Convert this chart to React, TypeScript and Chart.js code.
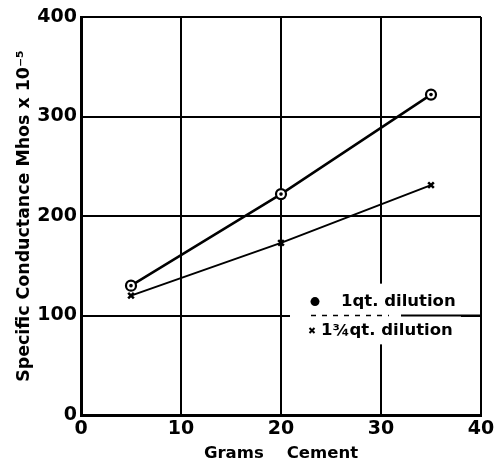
import React, { useEffect, useRef } from "react";
import { Chart, registerables } from "chart.js";

Chart.register(...registerables);

const gramsCement = [5, 20, 35];
const oneQuart = [130, 222, 322];
const oneThreeQuarterQuart = [120, 173, 231];
const xTicks = [0, 10, 20, 30, 40];
const yTicks = [0, 100, 200, 300, 400];
const legendLabels = ["1qt. dilution", "1\u00BEqt. dilution"];

const FONT = "'DejaVu Sans', sans-serif";

const legendPlugin = {
  id: "insetLegend",
  beforeDatasetsDraw(chart: any) {
    const { ctx } = chart;
    const xs = chart.scales.x;
    const ys = chart.scales.y;
    const x0 = xs.getPixelForValue(20.9);
    const yTop = ys.getPixelForValue(132);
    const yBot = ys.getPixelForValue(71);
    ctx.save();
    ctx.fillStyle = "#fff";
    ctx.fillRect(x0, yTop, xs.getPixelForValue(38) - x0, yBot - yTop);
    const y100 = ys.getPixelForValue(100);
    ctx.strokeStyle = "#000";
    ctx.lineWidth = 2;
    ctx.beginPath();
    ctx.moveTo(xs.getPixelForValue(32), y100);
    ctx.lineTo(xs.getPixelForValue(40), y100);
    ctx.stroke();
    ctx.setLineDash([5, 6]);
    ctx.lineWidth = 1.5;
    ctx.beginPath();
    ctx.moveTo(xs.getPixelForValue(23), y100);
    ctx.lineTo(xs.getPixelForValue(30.8), y100);
    ctx.stroke();
    ctx.setLineDash([]);
    ctx.restore();
  },
  afterDatasetsDraw(chart: any) {
    const { ctx } = chart;
    const xs = chart.scales.x;
    const ys = chart.scales.y;
    ctx.save();
    ctx.fillStyle = "#000";
    ctx.strokeStyle = "#000";
    const r1 = ys.getPixelForValue(114);
    ctx.beginPath();
    ctx.arc(xs.getPixelForValue(23.4), r1, 4.5, 0, Math.PI * 2);
    ctx.fill();
    ctx.font = `bold 16.5px ${FONT}`;
    ctx.textBaseline = "middle";
    ctx.textAlign = "left";
    ctx.fillText(legendLabels[0], xs.getPixelForValue(26), r1);
    const r2 = ys.getPixelForValue(85);
    const cx = xs.getPixelForValue(23.1);
    ctx.lineWidth = 2;
    ctx.beginPath();
    ctx.moveTo(cx - 2.5, r2 - 2.5);
    ctx.lineTo(cx + 2.5, r2 + 2.5);
    ctx.moveTo(cx + 2.5, r2 - 2.5);
    ctx.lineTo(cx - 2.5, r2 + 2.5);
    ctx.stroke();
    ctx.fillText(legendLabels[1], xs.getPixelForValue(24), r2);
    ctx.restore();
  },
};

const ringDot = {
  id: "ringDot",
  afterDatasetsDraw(chart: any) {
    const { ctx } = chart;
    const meta = chart.getDatasetMeta(0);
    ctx.save();
    ctx.fillStyle = "#000";
    meta.data.forEach((pt: any) => {
      ctx.beginPath();
      ctx.arc(pt.x, pt.y, 1.8, 0, Math.PI * 2);
      ctx.fill();
    });
    ctx.restore();
  },
};

export default function App() {
  const ref = useRef<HTMLCanvasElement>(null);
  useEffect(() => {
    document.body.style.margin = "0";
    const chart = new Chart(ref.current!, {
      type: "line",
      data: {
        datasets: [
          {
            label: legendLabels[0],
            data: gramsCement.map((x, i) => ({ x, y: oneQuart[i] })),
            borderColor: "#000",
            borderWidth: 2.5,
            pointStyle: "circle",
            pointRadius: 5,
            pointBorderWidth: 2.2,
            pointBorderColor: "#000",
            pointBackgroundColor: "#fff",
            tension: 0,
          },
          {
            label: legendLabels[1],
            data: gramsCement.map((x, i) => ({ x, y: oneThreeQuarterQuart[i] })),
            borderColor: "#000",
            borderWidth: 2,
            pointStyle: "crossRot",
            pointRadius: 4,
            pointBorderWidth: 2.5,
            pointBorderColor: "#000",
            tension: 0,
          },
        ],
      },
      options: {
        animation: false,
        responsive: false,
        layout: { padding: { top: 17, right: 23, left: 0, bottom: 0 } },
        plugins: { legend: { display: false }, tooltip: { enabled: false } },
        scales: {
          x: {
            type: "linear",
            min: 0,
            max: 40,
            afterBuildTicks: (s: any) => {
              s.ticks = xTicks.map((v) => ({ value: v }));
            },
            afterFit: (s: any) => {
              s.height = 47;
            },
            grid: { color: "#000", lineWidth: 2, drawTicks: false },
            border: { color: "#000", width: 3 },
            ticks: {
              color: "#000",
              padding: 3,
              font: { family: FONT, size: 19, weight: "bold" },
              maxRotation: 0,
            },
            title: {
              display: true,
              text: "Grams    Cement",
              color: "#000",
              font: { family: FONT, size: 16.5, weight: "bold" },
              padding: { top: 0, bottom: -2 },
            },
          },
          y: {
            type: "linear",
            min: 0,
            max: 400,
            afterBuildTicks: (s: any) => {
              s.ticks = yTicks.map((v) => ({ value: v }));
            },
            afterFit: (s: any) => {
              s.width = 81;
            },
            grid: { color: "#000", lineWidth: 2, drawTicks: false },
            border: { color: "#000", width: 3 },
            ticks: {
              color: "#000",
              padding: 4,
              font: { family: FONT, size: 19, weight: "bold" },
            },
            title: {
              display: true,
              text: "Specific Conductance Mhos x 10\u207B\u2075",
              color: "#000",
              font: { family: FONT, size: 17.4, weight: "bold" },
              padding: { top: 14, bottom: 0 },
            },
          },
        },
      },
      plugins: [legendPlugin, ringDot],
    });
    return () => chart.destroy();
  }, []);
  return (
    <div style={{ position: "absolute", left: 0, top: 0, width: 504, height: 462, background: "#fff" }}>
      <canvas ref={ref} width={504} height={462} />
    </div>
  );
}
